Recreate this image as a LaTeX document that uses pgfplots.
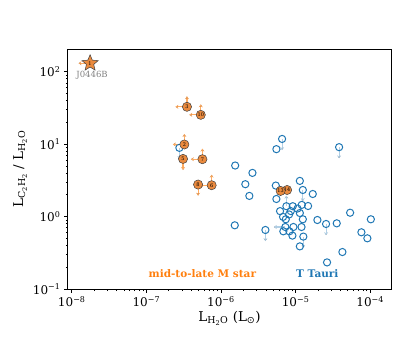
\documentclass[border=0pt]{standalone}
\usepackage{pgfplots}
\pgfplotsset{compat=1.18}
\usepackage{pgfplotstable}
\usetikzlibrary{arrows.meta}
\usepackage{fontspec}
\setmainfont{DejaVu Serif}
\newfontfamily\symfont{DejaVu Sans}

\definecolor{tblue}{HTML}{1F77B4}
\definecolor{torange}{HTML}{FF7F0E}
\definecolor{mfill}{HTML}{EA8A3E}
\colorlet{barrow}{tblue!35}
\colorlet{oarrow}{torange!65}

% filled five-pointed star
\pgfdeclareplotmark{fstar}{%
  \pgfpathmoveto{\pgfpointpolar{90}{\pgfplotmarksize}}%
  \pgfpathlineto{\pgfpointpolar{126}{0.45\pgfplotmarksize}}%
  \pgfpathlineto{\pgfpointpolar{162}{\pgfplotmarksize}}%
  \pgfpathlineto{\pgfpointpolar{198}{0.45\pgfplotmarksize}}%
  \pgfpathlineto{\pgfpointpolar{234}{\pgfplotmarksize}}%
  \pgfpathlineto{\pgfpointpolar{270}{0.45\pgfplotmarksize}}%
  \pgfpathlineto{\pgfpointpolar{306}{\pgfplotmarksize}}%
  \pgfpathlineto{\pgfpointpolar{342}{0.45\pgfplotmarksize}}%
  \pgfpathlineto{\pgfpointpolar{18}{\pgfplotmarksize}}%
  \pgfpathlineto{\pgfpointpolar{54}{0.45\pgfplotmarksize}}%
  \pgfpathclose\pgfusepathqfillstroke}

% T Tauri sample
\pgfplotstableread{
x y
6.59e-6 11.8
5.53e-6 8.53
3.83e-5 9.09
1.55e-6 5.07
2.64e-6 4.01
2.12e-6 2.80
2.40e-6 1.93
5.43e-6 2.68
1.14e-5 3.11
1.25e-5 2.33
1.70e-5 2.05
5.53e-6 1.75
7.53e-6 1.39
9.16e-6 1.39
1.21e-5 1.45
1.47e-5 1.40
1.06e-5 1.29
6.19e-6 1.19
8.63e-6 1.19
8.18e-6 1.07
6.79e-6 0.99
1.14e-5 1.12
1.25e-5 0.918
7.39e-6 0.918
5.38e-5 1.13
1.02e-4 0.918
1.96e-5 0.897
2.56e-5 0.790
3.56e-5 0.807
1.53e-6 0.758
3.94e-6 0.653
7.29e-6 0.718
9.35e-6 0.718
1.20e-5 0.718
6.85e-6 0.626
8.26e-6 0.626
9.06e-6 0.546
1.27e-5 0.529
7.62e-5 0.607
9.16e-5 0.501
1.14e-5 0.388
4.24e-5 0.324
2.64e-5 0.233
2.77e-7 8.89
}\ttauri

% T Tauri upper limits on the ratio
\pgfplotstableread{
x y e
6.59e-6 11.8 0.3
3.83e-5 9.09 0.3
1.25e-5 2.33 0.3
2.56e-5 0.790 0.3
3.94e-6 0.653 0.3
1.27e-5 0.529 0.3
2.77e-7 8.89 0.3
}\tdown
\pgfplotstableread{
x y e
7.29e-6 0.718 0.3
}\tleft
\pgfplotstableread{
x y e
7.53e-6 1.39 0.4
}\tup

% mid-to-late M stars
\pgfplotstableread{
x y lab
7.7e-6 2.33 14
6.3e-6 2.26 13
3.23e-7 9.9 2
3.5e-7 32.8 3
3.1e-7 6.26 5
7.5e-7 2.71 6
5.64e-7 6.2 7
4.93e-7 2.77 8
5.36e-7 25.4 10
}\mstar
\pgfplotstableread{
x y e
1.76e-8 131 0.3
3.5e-7 32.8 0.3
5.36e-7 25.4 0.3
3.23e-7 9.9 0.3
5.64e-7 6.2 0.3
7.5e-7 2.71 0.3
}\mleft
\pgfplotstableread{
x y e
3.5e-7 32.8 0.4
5.36e-7 25.4 0.4
3.23e-7 9.9 0.4
5.64e-7 6.2 0.4
7.5e-7 2.71 0.4
}\mup
\pgfplotstableread{
x y e
3.1e-7 6.26 0.3
4.93e-7 2.77 0.3
}\mdown

\pgfplotsset{
  limarrow/.style={draw=none, mark=none, forget plot},
  arrowstyle/.style={line width=1.1pt, -{Stealth[length=3pt,width=4pt]}},
}

\begin{document}
\begin{tikzpicture}
\path[use as bounding box] (0,0) rectangle (399pt,341pt);
\begin{axis}[
  at={(68pt,52pt)}, anchor=south west, scale only axis,
  width=323pt, height=240pt,
  xmode=log, ymode=log,
  xmin=8.9e-9, xmax=1.9e-4, ymin=0.1, ymax=206,
  axis line style={line width=1pt},
  tick align=outside, xtick pos=bottom, ytick pos=left,
  major tick length=4pt, minor tick length=2.2pt,
  tick style={black, line width=0.7pt},
  xtick={1e-8,1e-7,1e-6,1e-5,1e-4},
  xticklabels={10\textsuperscript{−8},10\textsuperscript{−7},10\textsuperscript{−6},10\textsuperscript{−5},10\textsuperscript{−4}},
  ytick={0.1,1,10,100},
  yticklabels={10\textsuperscript{−1},10\textsuperscript{0},10\textsuperscript{1},10\textsuperscript{2}},
  ticklabel style={font=\fontsize{12}{13}\selectfont},
  label style={font=\fontsize{13.5}{15}\selectfont},
  xlabel={L\textsubscript{H\textsubscript{2}O} (L\textsubscript{\symfont ⊙})},
  ylabel={L\textsubscript{C\textsubscript{2}H\textsubscript{2}} / L\textsubscript{H\textsubscript{2}O}},
  xlabel style={yshift=3pt},
  ylabel style={yshift=-1pt},
]
% arrows (limits)
\addplot[limarrow, error bars/.cd, y dir=minus, y explicit relative, error mark=none,
  error bar style={draw=barrow, arrowstyle}]
  table[x=x, y=y, y error=e] {\tdown};
\addplot[limarrow, error bars/.cd, x dir=minus, x explicit relative, error mark=none,
  error bar style={draw=barrow, arrowstyle}]
  table[x=x, y=y, x error=e] {\tleft};
\addplot[limarrow, error bars/.cd, y dir=plus, y explicit relative, error mark=none,
  error bar style={draw=barrow, arrowstyle}]
  table[x=x, y=y, y error=e] {\tup};
\addplot[limarrow, error bars/.cd, x dir=minus, x explicit relative, error mark=none,
  error bar style={draw=oarrow, arrowstyle}]
  table[x=x, y=y, x error=e] {\mleft};
\addplot[limarrow, error bars/.cd, y dir=plus, y explicit relative, error mark=none,
  error bar style={draw=oarrow, arrowstyle}]
  table[x=x, y=y, y error=e] {\mup};
\addplot[limarrow, error bars/.cd, y dir=minus, y explicit relative, error mark=none,
  error bar style={draw=oarrow, arrowstyle}]
  table[x=x, y=y, y error=e] {\mdown};

% T Tauri
\addplot[only marks, mark=o, mark size=3.6pt, mark options={draw=tblue, line width=1pt}]
  table[x=x, y=y] {\ttauri};

% M stars
\addplot[only marks, mark=*, mark size=4.6pt,
  mark options={fill=mfill, draw=black!75, line width=0.5pt},
  nodes near coords, point meta=explicit symbolic,
  every node near coord/.style={anchor=center, inner sep=0pt, font=\fontsize{5}{5}\selectfont}]
  table[x=x, y=y, meta=lab] {\mstar};
\addplot[only marks, mark=fstar, mark size=8.5pt,
  mark options={fill=mfill, draw=black!75, line width=0.5pt},
  nodes near coords, point meta=explicit symbolic,
  every node near coord/.style={anchor=center, inner sep=0pt, font=\fontsize{5}{5}\selectfont}]
  coordinates {(1.76e-8,131) [1]};

\node[text=gray, font=\fontsize{8.5}{9}\selectfont, anchor=center] at (axis cs:1.87e-8,90) {J0446B};
\node[text=torange, font=\fontsize{10.5}{12}\selectfont\bfseries] at (rel axis cs:0.416,0.0625) {mid-to-late M star};
\node[text=tblue, font=\fontsize{10.5}{12}\selectfont\bfseries] at (rel axis cs:0.772,0.0625) {T Tauri};
\end{axis}
\end{tikzpicture}
\end{document}
